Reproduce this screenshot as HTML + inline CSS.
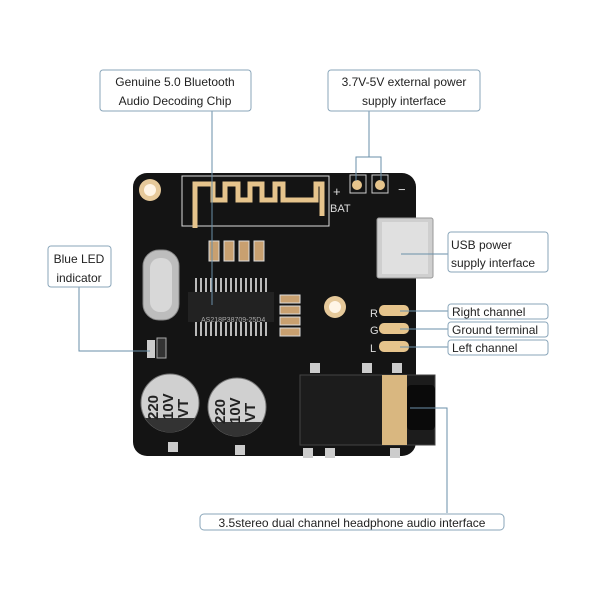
<!DOCTYPE html>
<html><head><style>
body{margin:0;background:#fff}
svg{display:block}
text{font-family:"Liberation Sans",sans-serif;fill:#222}
</style></head><body>
<svg width="600" height="600" viewBox="0 0 600 600">
<!-- board -->
<rect x="133" y="173" width="283" height="283" rx="14" fill="#141414"/>
<!-- mounting holes -->
<circle cx="150" cy="190" r="11" fill="#e6c99a"/><circle cx="150" cy="190" r="6" fill="#fff5e6"/>
<circle cx="335" cy="307" r="11" fill="#e6c99a"/><circle cx="335" cy="307" r="6" fill="#fff5e6"/>
<!-- antenna -->
<rect x="182" y="176" width="147" height="50" fill="none" stroke="#ddd" stroke-width="1"/>
<path d="M195 228 V184 H213 V200 H225 V184 H238 V200 H250 V184 H262 V200 H275 V184 H283 V200 H316 V184 H322 V216" fill="none" stroke="#e6c48c" stroke-width="5"/>
<!-- BAT pads -->
<text x="333" y="196" font-size="13" fill="#ddd" style="fill:#ddd">+</text>
<text x="330" y="212" font-size="11" style="fill:#ddd">BAT</text>
<text x="398" y="194" font-size="13" style="fill:#ddd">−</text>
<rect x="350" y="175" width="16" height="18" fill="none" stroke="#ccc"/><circle cx="357" cy="185" r="5" fill="#e6c48c"/>
<rect x="372" y="175" width="16" height="18" fill="none" stroke="#ccc"/><circle cx="380" cy="185" r="5" fill="#e6c48c"/>
<!-- usb -->
<rect x="377" y="218" width="56" height="60" rx="2" fill="#cfcfcf" stroke="#999"/>
<rect x="382" y="222" width="46" height="52" fill="#e0e0e0"/>
<!-- resistors top -->
<g fill="#c8a070" stroke="#ddd"><rect x="209" y="241" width="10" height="20"/><rect x="224" y="241" width="10" height="20"/><rect x="239" y="241" width="10" height="20"/><rect x="254" y="241" width="10" height="20"/></g>
<!-- crystal -->
<rect x="143" y="250" width="36" height="70" rx="16" fill="#bdbdbd" stroke="#888"/>
<rect x="150" y="258" width="22" height="54" rx="10" fill="#d8d8d8"/>
<!-- chip -->
<g stroke="#bbb" stroke-width="2"><path d="M196 278v14M201 278v14M206 278v14M211 278v14M216 278v14M221 278v14M226 278v14M231 278v14M236 278v14M241 278v14M246 278v14M251 278v14M256 278v14M261 278v14M266 278v14M196 322v14M201 322v14M206 322v14M211 322v14M216 322v14M221 322v14M226 322v14M231 322v14M236 322v14M241 322v14M246 322v14M251 322v14M256 322v14M261 322v14M266 322v14"/></g>
<rect x="188" y="292" width="86" height="30" fill="#222"/>
<text x="201" y="322" font-size="7" style="fill:#aaa">AS218P38709-25D4</text>
<!-- small parts right -->
<g fill="#c8a070" stroke="#ddd"><rect x="280" y="295" width="20" height="8"/><rect x="280" y="306" width="20" height="8"/><rect x="280" y="317" width="20" height="8"/><rect x="280" y="328" width="20" height="8"/></g>
<!-- LED -->
<rect x="147" y="340" width="8" height="18" fill="#ccc"/><rect x="157" y="338" width="9" height="20" fill="#333" stroke="#aaa"/>
<!-- LGR pads -->
<g fill="#e6c48c"><rect x="379" y="305" width="30" height="11" rx="5"/><rect x="379" y="323" width="30" height="11" rx="5"/><rect x="379" y="341" width="30" height="11" rx="5"/></g>
<text x="370" y="317" font-size="11" style="fill:#ddd">R</text><text x="370" y="334" font-size="11" style="fill:#ddd">G</text><text x="370" y="352" font-size="11" style="fill:#ddd">L</text>
<!-- capacitors -->
<circle cx="170" cy="403" r="29" fill="#d0d0d0" stroke="#777"/><path d="M145 418 A29 29 0 0 0 195 418 Z" fill="#333"/>
<circle cx="237" cy="407" r="29" fill="#d0d0d0" stroke="#777"/><path d="M212 422 A29 29 0 0 0 262 422 Z" fill="#333"/>
<text transform="translate(158,420) rotate(-90)" font-size="15" font-weight="bold" style="fill:#222">220</text>
<text transform="translate(173,420) rotate(-90)" font-size="15" font-weight="bold" style="fill:#222">10V</text>
<text transform="translate(188,418) rotate(-90)" font-size="15" font-weight="bold" style="fill:#222">VT</text>
<text transform="translate(225,424) rotate(-90)" font-size="15" font-weight="bold" style="fill:#222">220</text>
<text transform="translate(240,424) rotate(-90)" font-size="15" font-weight="bold" style="fill:#222">10V</text>
<text transform="translate(255,422) rotate(-90)" font-size="15" font-weight="bold" style="fill:#222">VT</text>
<!-- jack -->
<rect x="300" y="375" width="135" height="70" fill="#1c1c1c" stroke="#444"/>
<rect x="382" y="375" width="25" height="70" fill="#d9b780"/>
<rect x="407" y="385" width="28" height="45" rx="4" fill="#0a0a0a"/>
<g fill="#ccc"><rect x="310" y="363" width="10" height="10"/><rect x="362" y="363" width="10" height="10"/><rect x="392" y="363" width="10" height="10"/><rect x="303" y="448" width="10" height="10"/><rect x="325" y="448" width="10" height="10"/><rect x="390" y="448" width="10" height="10"/><rect x="168" y="442" width="10" height="10"/><rect x="235" y="445" width="10" height="10"/></g>

<!-- callout lines -->
<g stroke="#6a8fa8" stroke-width="1" fill="none">
<path d="M212 111 V305"/>
<path d="M369 111 V157 M356 181 V157 H381 V181"/>
<path d="M79 287 V351 H150"/>
<path d="M401 254 H448"/>
<path d="M400 311 H448 M400 329 H448 M400 347 H448"/>
<path d="M410 408 H447 V513"/>
</g>
<!-- boxes -->
<g fill="#fff" stroke="#8aa6ba" stroke-width="1">
<rect x="100" y="70" width="151" height="41" rx="3"/>
<rect x="328" y="70" width="152" height="41" rx="3"/>
<rect x="48" y="246" width="63" height="41" rx="3"/>
<rect x="448" y="232" width="100" height="40" rx="3"/>
<rect x="448" y="304" width="100" height="15" rx="3"/>
<rect x="448" y="322" width="100" height="15" rx="3"/>
<rect x="448" y="340" width="100" height="15" rx="3"/>
<rect x="200" y="514" width="304" height="16" rx="4"/>
</g>
<g font-size="12">
<text x="175" y="86" text-anchor="middle">Genuine 5.0 Bluetooth</text>
<text x="175" y="105" text-anchor="middle">Audio Decoding Chip</text>
<text x="404" y="86" text-anchor="middle">3.7V-5V external power</text>
<text x="404" y="105" text-anchor="middle">supply interface</text>
<text x="79" y="263" text-anchor="middle">Blue LED</text>
<text x="79" y="282" text-anchor="middle">indicator</text>
<text x="451" y="249">USB power</text>
<text x="451" y="267">supply interface</text>
<text x="452" y="316">Right channel</text>
<text x="452" y="334">Ground terminal</text>
<text x="452" y="352">Left channel</text>
<text x="352" y="527" text-anchor="middle">3.5stereo dual channel headphone audio interface</text>
</g>
</svg>
</body></html>
